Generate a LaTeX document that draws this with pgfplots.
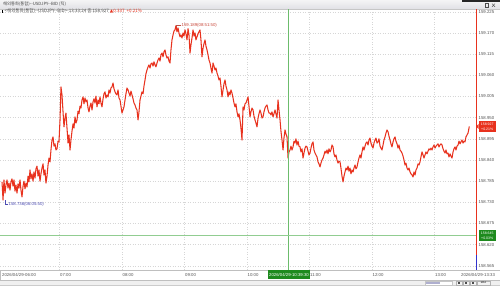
\documentclass[border=0pt]{standalone}
\usepackage{pgfplots}
\pgfplotsset{compat=1.18}
\usepackage{fontspec}
\setmainfont{Liberation Sans}
\newfontfamily\kr{Noto Sans CJK KR}
\newfontfamily\dv{DejaVu Sans}
\definecolor{pr}{HTML}{E8321E}
\definecolor{gridc}{HTML}{D6D6D6}
\definecolor{crossg}{HTML}{6CBC6C}
\definecolor{boxg}{HTML}{1E8A1E}
\definecolor{lbl}{HTML}{555555}
\newcommand\tf{\fontsize{4.3}{5}\selectfont}
\newcommand\tg{\fontsize{3.5}{4}\selectfont}
\pgfplotstableread{
m p
4.8 158.783
5.8 158.736
6.7 158.788
7.7 158.754
8.6 158.775
9.6 158.788
10.6 158.767
11.5 158.780
12.5 158.762
13.4 158.783
14.4 158.791
15.4 158.772
16.3 158.788
17.3 158.759
18.2 158.775
19.2 158.754
20.2 158.778
21.1 158.767
22.1 158.788
23.0 158.762
24.0 158.744
25.0 158.772
25.9 158.785
26.9 158.765
27.8 158.780
28.8 158.770
29.8 158.798
30.7 158.783
31.7 158.814
32.6 158.791
33.6 158.804
34.6 158.785
35.5 158.809
36.5 158.793
37.4 158.817
38.4 158.824
39.4 158.798
40.3 158.814
41.3 158.785
42.2 158.804
43.2 158.819
44.2 158.830
45.1 158.801
46.1 158.814
47.0 158.780
48.0 158.798
49.0 158.827
49.9 158.845
50.9 158.835
51.8 158.866
52.8 158.892
53.8 158.900
54.7 158.876
55.7 158.882
56.6 158.866
57.6 158.869
58.6 158.889
59.5 158.887
60.5 158.944
61.4 159.030
62.4 159.009
63.4 158.965
64.3 158.926
65.3 158.949
66.2 158.962
67.2 158.923
68.2 158.884
69.1 158.905
70.1 158.866
71.0 158.892
72.0 158.915
73.0 158.934
73.9 158.923
74.9 158.952
75.8 158.936
76.8 158.944
77.8 158.967
78.7 158.960
79.7 158.980
80.6 158.975
81.6 158.996
82.6 159.004
83.5 158.986
84.5 159.001
85.4 158.991
86.4 158.996
87.4 158.975
88.3 158.965
89.3 158.980
90.2 158.988
91.2 158.970
92.2 158.991
93.1 158.999
94.1 158.988
95.0 159.006
96.0 158.978
97.0 158.996
97.9 158.986
98.9 159.004
99.8 158.988
100.8 158.978
101.8 158.999
102.7 159.012
103.7 159.017
104.6 159.001
105.6 159.009
106.6 159.004
107.5 159.022
108.5 159.014
109.4 159.027
110.4 159.030
111.4 159.040
112.3 159.025
113.3 159.017
114.2 159.012
115.2 159.009
116.2 159.022
117.1 159.001
118.1 158.996
119.0 158.980
120.0 158.962
121.0 158.970
121.9 158.978
122.9 158.996
123.8 159.012
124.8 159.027
125.8 159.022
126.7 159.014
127.7 159.006
128.6 159.019
129.6 159.009
130.6 158.999
131.5 158.988
132.5 158.983
133.4 158.975
134.4 158.970
135.4 158.944
136.3 158.965
137.3 158.996
138.2 159.006
139.2 159.017
140.2 159.012
141.1 159.032
142.1 159.048
143.0 159.064
144.0 159.074
145.0 159.082
145.9 159.087
146.9 159.079
147.8 159.090
148.8 159.092
149.8 159.084
150.7 159.095
151.7 159.087
152.6 159.082
153.6 159.092
154.6 159.100
155.5 159.105
156.5 159.097
157.4 159.113
158.4 159.118
159.4 159.108
160.3 159.121
161.3 159.126
162.2 159.113
163.2 159.105
164.2 159.108
165.1 159.097
166.1 159.092
167.0 159.126
168.0 159.152
169.0 159.165
169.9 159.175
170.9 159.178
171.8 159.189
172.8 159.173
173.8 159.183
174.7 159.170
175.7 159.160
176.6 159.165
177.6 159.157
178.6 159.170
179.5 159.162
180.5 159.178
181.4 159.168
182.4 159.152
183.4 159.181
184.3 159.165
185.3 159.118
186.2 159.139
187.2 159.157
188.2 159.178
189.1 159.162
190.1 159.170
191.0 159.152
192.0 159.160
193.0 159.168
193.9 159.173
194.9 159.178
195.8 159.152
196.8 159.108
197.8 159.131
198.7 159.142
199.7 159.152
200.6 159.136
201.6 159.126
202.6 159.113
203.5 159.100
204.5 159.092
205.4 159.079
206.4 159.066
207.4 159.092
208.3 159.084
209.3 159.074
210.2 159.079
211.2 159.066
212.2 159.058
213.1 159.048
214.1 159.053
215.0 159.032
216.0 159.004
217.0 159.022
217.9 159.038
218.9 159.048
219.8 159.032
220.8 159.022
221.8 159.004
222.7 159.017
223.7 159.009
224.6 159.022
225.6 159.014
226.6 159.001
227.5 158.988
228.5 158.978
229.4 158.986
230.4 158.965
231.4 158.952
232.3 158.960
233.3 158.944
234.2 158.923
235.2 158.892
236.2 158.978
237.1 158.970
238.1 158.986
239.0 158.988
240.0 158.996
241.0 159.004
241.9 158.980
242.9 158.952
243.8 158.965
244.8 158.975
245.8 158.970
246.7 158.954
247.7 158.944
248.6 158.936
249.6 158.926
250.6 158.949
251.5 158.960
252.5 158.970
253.4 158.962
254.4 158.949
255.4 158.952
256.3 158.965
257.3 158.975
258.2 158.980
259.2 158.983
260.2 158.970
261.1 158.962
262.1 158.962
263.0 158.957
264.0 158.965
265.0 158.952
265.9 158.960
266.9 158.970
267.8 158.960
268.8 158.949
269.8 158.996
270.7 158.970
271.7 158.944
272.6 158.915
273.6 158.892
274.6 158.866
275.5 158.897
276.5 158.918
277.4 158.908
278.4 158.900
279.4 158.845
280.3 158.861
281.3 158.866
282.2 158.876
283.2 158.866
284.2 158.874
285.1 158.889
286.1 158.884
287.0 158.895
288.0 158.879
289.0 158.889
289.9 158.876
290.9 158.874
291.8 158.861
292.8 158.869
293.8 158.845
294.7 158.858
295.7 158.871
296.6 158.876
297.6 158.874
298.6 158.863
299.5 158.853
300.5 158.858
301.4 158.871
302.4 158.882
303.4 158.887
304.3 158.866
305.3 158.858
306.2 158.853
307.2 158.848
308.2 158.835
309.1 158.830
310.1 158.822
311.0 158.832
312.0 158.840
313.0 158.845
313.9 158.853
314.9 158.863
315.8 158.858
316.8 158.866
317.8 158.856
318.7 158.869
319.7 158.861
320.6 158.866
321.6 158.879
322.6 158.874
323.5 158.856
324.5 158.848
325.4 158.853
326.4 158.840
327.4 158.832
328.3 158.837
329.3 158.835
330.2 158.819
331.2 158.798
332.2 158.783
333.1 158.798
334.1 158.809
335.0 158.819
336.0 158.814
337.0 158.824
337.9 158.811
338.9 158.819
339.8 158.804
340.8 158.814
341.8 158.809
342.7 158.819
343.7 158.827
344.6 158.817
345.6 158.822
346.6 158.835
347.5 158.845
348.5 158.853
349.4 158.845
350.4 158.861
351.4 158.874
352.3 158.866
353.3 158.876
354.2 158.884
355.2 158.887
356.2 158.879
357.1 158.892
358.1 158.897
359.0 158.884
360.0 158.876
361.0 158.871
361.9 158.884
362.9 158.892
363.8 158.897
364.8 158.884
365.8 158.887
366.7 158.895
367.7 158.876
368.6 158.871
369.6 158.866
370.6 158.879
371.5 158.892
372.5 158.900
373.4 158.910
374.4 158.918
375.4 158.913
376.3 158.902
377.3 158.892
378.2 158.882
379.2 158.874
380.2 158.887
381.1 158.895
382.1 158.900
383.0 158.889
384.0 158.882
385.0 158.871
385.9 158.879
386.9 158.866
387.8 158.863
388.8 158.858
389.8 158.850
390.7 158.840
391.7 158.827
392.6 158.832
393.6 158.819
394.6 158.814
395.5 158.819
396.5 158.809
397.4 158.804
398.4 158.801
399.4 158.796
400.3 158.809
401.3 158.801
402.2 158.814
403.2 158.819
404.2 158.830
405.1 158.827
406.1 158.835
407.0 158.848
408.0 158.861
409.0 158.853
409.9 158.845
410.9 158.853
411.8 158.861
412.8 158.856
413.8 158.863
414.7 158.869
415.7 158.866
416.6 158.871
417.6 158.866
418.6 158.874
419.5 158.879
420.5 158.871
421.4 158.876
422.4 158.879
423.4 158.882
424.3 158.874
425.3 158.879
426.2 158.882
427.2 158.879
428.2 158.869
429.1 158.863
430.1 158.858
431.0 158.866
432.0 158.856
433.0 158.858
433.9 158.848
434.9 158.856
435.8 158.850
436.8 158.845
437.8 158.861
438.7 158.869
439.7 158.874
440.6 158.866
441.6 158.876
442.6 158.879
443.5 158.889
444.5 158.882
445.4 158.887
446.4 158.892
447.4 158.884
448.3 158.889
449.3 158.887
450.2 158.900
451.2 158.905
452.2 158.910
453.4 158.927
}\usdjpy

\begin{document}
\begin{tikzpicture}[x=1pt,y=1pt]
\path[use as bounding box] (0,0) rectangle (500,286);
\fill[white] (0,0) rectangle (500,286);
% scroll bar and time bar
\fill[gray!12] (0,0) rectangle (500,6);
\draw[gray!40, line width=0.4pt] (0,0.3) -- (500,0.3);
\draw[gray!50, line width=0.4pt, fill=white] (0,6) rectangle (500,16);
\fill[white] (425,1) rectangle (452,5);
\draw[gray!45, line width=0.3pt] (425,1) rectangle (452,5);
\fill[blue!25!gray!50] (426,2) rectangle (440,4);
\foreach \bx in {456,463,470} {\draw[gray!60, fill=gray!10, line width=0.3pt] (\bx,1) rectangle (\bx+6,5);
  \fill[black!70] (\bx+2.2,2.2) rectangle (\bx+3.8,3.8);}
\draw[gray!60, fill=gray!10, line width=0.3pt] (477,1) rectangle (490,5);
\node[inner sep=0, font=\fontsize{2.5}{3}\selectfont] at (483.5,3) {MAX};

\begin{axis}[at={(0pt,16pt)}, anchor=south west, scale only axis,
  width=476pt, height=261pt,
  xmin=2.88, xmax=459.84, ymin=158.5542, ymax=159.2323,
  axis line style={draw=none},
  xtick={60,120,180,240,300,360,420},
  xticklabels={07:00,08:00,09:00,10:00,11:00,12:00,13:00},
  ytick={158.565,158.620,158.675,158.730,158.785,158.840,158.895,158.950,159.005,159.060,159.115,159.170,159.225},
  yticklabels={158.565,158.620,158.675,158.730,158.785,158.840,158.895,158.950,159.005,159.060,159.115,159.170,159.225},
  yticklabel pos=right,
  major tick length=0pt,
  grid=major,
  major grid style={gridc, dash pattern=on 0.5pt off 2pt, line width=0.45pt},
  xticklabel style={font=\tf, text=lbl, anchor=west, inner sep=0pt, yshift=-5pt, xshift=0.5pt},
  yticklabel style={font=\tf, text=lbl, anchor=west, inner sep=0pt, xshift=2.5pt},
]
\addplot[pr, line width=1.05pt, line join=round, mark=none] table[x=m, y=p] {\usdjpy};
\end{axis}

% header
\fill[top color=blue!4!gray!8, bottom color=blue!8!gray!22] (0,277) rectangle (500,286);
\draw[gray!45, line width=0.3pt] (0,277) -- (500,277);
\node[anchor=west, inner sep=0, text=black!75] at (3,281.5) {\kr\fontsize{4.3}{5}\selectfont 해외통화(통합)--USDJPY--BID (틱)};
\fill[black!85] (462,284) rectangle (500,286);
\draw[black!70, line width=0.35pt] (485,279.2) rectangle (488.5,282.4);
\draw[black!70, line width=0.4pt] (492,279.2) -- (495,282.4) (492,282.4) -- (495,279.2);
% second line
\fill[black] (2,272.6) rectangle (3.2,276.4);
\node[anchor=west, inner sep=0, text=black!70] at (4.5,274.5) {\kr\fontsize{4.5}{5}\selectfont <해외통화(통합)--USDJPY--BID>-13:33:24 종:158.927 \textcolor{pr}{{\dv ▲}0.337 \ +0.21\%}};

% time bar labels
\node[anchor=west, inner sep=0, text=lbl, font=\tf] at (2,11) {2026/04/29-06:00};
\node[anchor=west, inner sep=0, text=lbl, font=\tf] at (461,11) {2026/04/29-13:33};

% crosshair
\draw[crossg, line width=0.6pt] (288.5,16) -- (288.5,277);
\draw[crossg!75, line width=0.6pt] (0,51) -- (476,51);
\fill[boxg] (268,6.5) rectangle (310,15.5);
\node[inner sep=0, text=white, font=\tf] at (289,11) {2026/04/29-10:39:30};

% right axis line
\draw[pr, line width=0.6pt] (476,16) -- (476,277);
\draw[blue!60!gray, line width=0.6pt] (476,16) -- (476,31);

% current price box
\fill[pr] (476.3,159.5) -- (478.5,162) -- (478.5,157) -- cycle;
\fill[pr] (478.5,154) rectangle (496,165);
\node[inner sep=0, text=white, font=\tg] at (487.2,162) {158.927};
\node[inner sep=0, text=white, font=\tg] at (487.2,157) {+0.21\%};
% crosshair price box
\fill[boxg] (478.5,45) rectangle (496,56);
\node[inner sep=0, text=white, font=\tg] at (487.2,53) {158.645};
\node[inner sep=0, text=white, font=\tg] at (487.2,48) {+0.03\%};

% max / min annotations
\draw[pr!60!gray, line width=0.4pt] (176.5,259) -- (176.5,260.5) -- (181,260.5);
\node[anchor=west, inner sep=0, text=pr!70!gray, font=\tf] at (181.5,260.5) {159.189(08:51:50)};
\draw[blue!40!gray, line width=0.4pt] (5.5,85.5) -- (5.5,81.5) -- (8,81.5);
\node[anchor=west, inner sep=0, text=blue!40!gray, font=\tf] at (8.5,81.5) {158.736(06:05:50)};
\end{tikzpicture}
\end{document}
